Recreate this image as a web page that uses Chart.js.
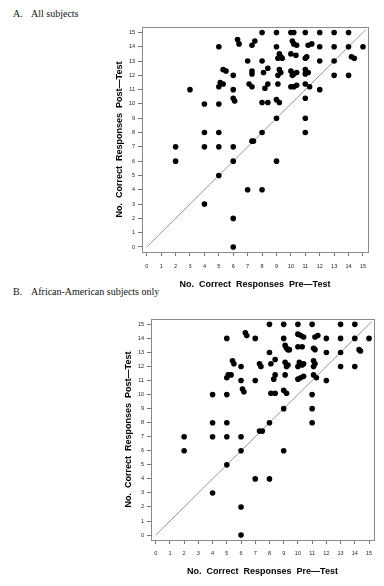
<!DOCTYPE html>
<html>
<head>
<meta charset="utf-8">
<script src="https://cdn.jsdelivr.net/npm/chart.js@4/dist/chart.umd.min.js"></script>
<style>
  html, body { margin: 0; padding: 0; background: #fff; }
  body { position: relative; width: 384px; height: 586px; overflow: hidden; }
  .panel { position: absolute; left: 13px; font: 10px "Liberation Serif", "DejaVu Serif", serif; color: #111; }
  .panel b { font-weight: normal; display: inline-block; width: 18px; }
  canvas { position: absolute; left: 0; }
</style>
</head>
<body>
<div class="panel" style="top:8px;"><b>A.</b>All subjects</div>
<div class="panel" style="top:286px;"><b>B.</b>African-American subjects only</div>
<canvas id="chartA" width="384" height="293" style="top:0;"></canvas>
<canvas id="chartB" width="384" height="293" style="top:293px;"></canvas>

<script>
/* ---- data: pre-test (x) vs post-test (y) correct responses ---- */
const tickVals = [0, 1, 2, 3, 4, 5, 6, 7, 8, 9, 10, 11, 12, 13, 14, 15];
const diagLine = [0, 15.2];

// A. all subjects
const preA = [
  8, 9, 10, 10.2, 11, 12, 13, 14,
  5, 6.3, 6.4, 7.3, 7.5, 9, 10.1, 10.2, 10.4, 11.2, 11.45, 12, 13, 14, 15,
  7, 8, 9.2, 9.3, 9.1, 9.4, 10, 10.35, 11.1, 11, 12, 13, 14.2, 14.4,
  5.3, 5.5, 6, 7.3, 7.3, 8.1, 8.4, 9.2, 9.1, 9.3, 10, 10.2, 10.4, 10.1, 11, 11.2, 11, 13, 14,
  3, 5.1, 5, 5.3, 6, 7.1, 7.3, 8.2, 8.4, 9.1, 10, 10.2, 10.4, 11, 11.3, 12,
  4, 5, 6, 6.1, 8, 8.4, 9, 9.2, 11,
  9, 11,
  4, 5, 8, 11,
  2, 4, 5, 6, 7.3, 7.4,
  2, 6, 9,
  5, 7, 8, 4, 6, 6
];
const postA = [
  15, 15, 15, 15, 15, 15, 15, 15,
  14, 14.5, 14.2, 14.1, 14.4, 14, 14.4, 14.2, 14.1, 14.1, 14.2, 14, 14, 14, 14,
  13, 13, 13.5, 13.3, 13.2, 13.2, 13.5, 13.4, 13.3, 13.2, 13, 13, 13.3, 13.2,
  12.4, 12.3, 12, 12.3, 12.1, 12.2, 12.5, 12.4, 12, 12.2, 12.3, 12.1, 12.2, 12, 12.4, 12.2, 12.1, 12, 12,
  11, 11.5, 11.2, 11.4, 11, 11.4, 11.2, 11.1, 11.4, 11.4, 11.2, 11.2, 11.3, 11.4, 11.2, 11,
  10, 10, 10.4, 10.2, 10.1, 10.1, 10.3, 10.1, 10.4,
  9, 9,
  8, 8, 8, 8,
  7, 7, 7, 7, 7.4, 7.4,
  6, 6, 6,
  5, 4, 4, 3, 2, 0
];

// B. African-American subjects only
const preB = [
  8, 9, 10, 11, 13, 14,
  5, 6.3, 6.4, 7, 9, 10, 10.2, 10.4, 11.2, 11.4, 12, 13, 14, 15,
  8, 9.1, 9.2, 9.3, 9.4, 10, 10.3, 11.2, 11.1, 12, 13, 14.3, 14.4,
  5.4, 5.5, 6, 7.3, 7.4, 8.1, 8.4, 9.1, 9.3, 9.2, 10.1, 10.3, 10.4, 10, 11.1, 11.2, 11.1, 13, 14,
  5.1, 5, 5.3, 6, 7, 8.3, 8.4, 9.1, 10, 10.2, 10.4, 11.1, 11.3, 12,
  4, 5, 6.1, 6.2, 8.1, 8.4, 9, 9.2, 11,
  9, 11,
  4, 5, 8, 11,
  2, 4, 5, 6, 7.3, 7.5,
  2, 6, 9,
  5, 7, 8, 4, 6, 6
];
const postB = [
  15, 15, 15, 15, 15, 15,
  14, 14.4, 14.2, 14, 14, 14.3, 14.2, 14.1, 14.1, 14.2, 14, 14, 14, 14,
  13, 13.5, 13.3, 13.2, 13.2, 13.4, 13.4, 13.2, 13.3, 13, 13, 13.2, 13.1,
  12.4, 12.2, 12, 12.2, 12, 12.2, 12.5, 12.3, 12.1, 12, 12.3, 12.1, 12.2, 12, 12.4, 12.2, 12, 12, 12,
  11.4, 11.2, 11.4, 11, 11, 11.1, 11.4, 11.4, 11.1, 11.2, 11.3, 11.4, 11.2, 11,
  10, 10, 10.4, 10.2, 10.1, 10.1, 10.3, 10.1, 10,
  9, 9,
  8, 8, 8, 8,
  7, 7, 7, 7, 7.4, 7.4,
  6, 6, 6,
  5, 4, 4, 3, 2, 0
];

/* ---- frame round the plot area ---- */
const framePlugin = {
  id: 'frame',
  beforeDatasetsDraw(chart) {
    const a = chart.chartArea, ctx = chart.ctx;
    ctx.save();
    ctx.strokeStyle = '#8a8a8a';
    ctx.lineWidth = 1;
    ctx.strokeRect(Math.round(a.left) + 0.5, Math.round(a.top) + 0.5,
                   Math.round(a.right - a.left), Math.round(a.bottom - a.top));
    ctx.restore();
  }
};

function makeChart(id, xs, ys, g) {
  const tickFont = { family: '"Liberation Sans", Arial, sans-serif', size: 5.5 };
  const titleFont = { family: '"Liberation Sans", Arial, sans-serif', size: 9, weight: 'bold' };
  const fixTicks = s => { s.ticks = tickVals.map(v => ({ value: v })); };

  return new Chart(document.getElementById(id), {
    type: 'scatter',
    data: {
      datasets: [
        {
          data: xs.map((x, i) => ({ x, y: ys[i] })),
          backgroundColor: '#000',
          borderColor: '#000',
          pointRadius: 2.8,
          borderWidth: 0,
          order: 1,
        },
        {
          data: diagLine.map(v => ({ x: v, y: v })),
          showLine: true,
          borderColor: '#7a7a7a',
          borderWidth: 0.8,
          pointRadius: 0,
          order: 2,
        },
      ],
    },
    options: {
      responsive: false,
      animation: false,
      layout: { padding: { top: g.top, right: g.right, left: 0, bottom: 0 } },
      plugins: { legend: { display: false }, tooltip: { enabled: false } },
      scales: {
        x: {
          min: -0.33, max: 15.35,
          afterBuildTicks: fixTicks,
          afterFit: s => { s.height = g.xh; },
          grid: { drawOnChartArea: false, tickLength: 4, color: '#555', lineWidth: 0.8 },
          border: { display: false },
          ticks: { font: tickFont, color: '#222', padding: g.xpad, maxRotation: 0, autoSkip: false },
          title: { display: true, text: 'No.  Correct  Responses  Pre\u2014Test', font: titleFont,
                   color: '#000', padding: { top: 0, bottom: g.xtb } },
        },
        y: {
          min: -0.35, max: 15.38,
          afterBuildTicks: fixTicks,
          afterFit: s => { s.width = g.yw; },
          grid: { drawOnChartArea: false, tickLength: 4, color: '#555', lineWidth: 0.8 },
          border: { display: false },
          ticks: { font: tickFont, color: '#222', padding: 3, autoSkip: false },
          title: { display: true, text: 'No.  Correct  Responses  Post\u2014Test', font: titleFont,
                   color: '#000', padding: { top: g.ytt, bottom: 0 } },
        },
      },
    },
    plugins: [framePlugin],
  });
}

makeChart('chartA', preA, postA, { top: 27, right: 16, yw: 142, xh: 41, xpad: 7, xtb: 3, ytt: 114 });
makeChart('chartB', preB, postB, { top: 26, right: 10, yw: 151, xh: 46, xpad: 6, xtb: 9, ytt: 123 });
</script>
</body>
</html>
